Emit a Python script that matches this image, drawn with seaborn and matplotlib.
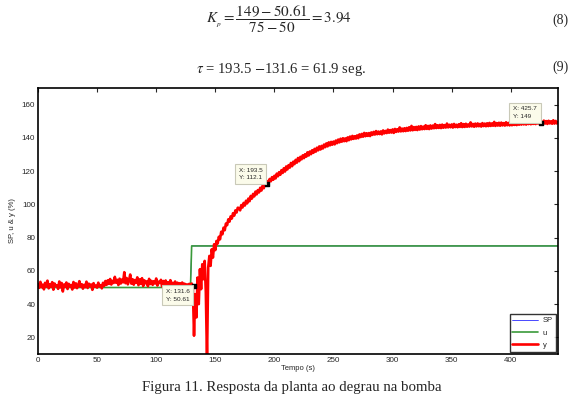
import matplotlib
matplotlib.use("Agg")
import matplotlib.pyplot as plt
import seaborn as sns
import numpy as np
import pandas as pd

# --- data (1 s steps, 0..440 s)
tempo = list(range(0, 441))

y_vals = [
    52.1, 49.8, 53.4, 50.2, 51.7, 48.9, 52.8, 50.6, 54.1, 49.5,
    51.9, 50.3, 53.2, 48.7, 52.4, 50.9, 51.3, 49.2, 53.6, 50.1,
    52.7, 47.6, 51.8, 50.4, 53.0, 49.1, 52.2, 50.8, 51.5, 48.8,
    53.3, 50.0, 52.5, 49.6, 51.2, 53.8, 50.5, 52.0, 49.3, 51.6,
    50.2, 53.5, 49.7, 52.3, 50.9, 51.8, 48.6, 52.6, 50.4, 51.1,
    49.9, 52.9, 50.7, 51.4, 49.5, 52.8, 51.0, 53.9, 51.6, 54.3,
    52.2, 55.1, 51.8, 54.0, 52.7, 56.4, 52.9, 54.6, 51.5, 55.3,
    52.4, 54.8, 53.1, 59.2, 52.6, 55.7, 51.9, 54.2, 57.8, 52.3,
    55.0, 51.7, 54.5, 52.8, 56.1, 51.4, 54.9, 52.2, 55.6, 50.9,
    54.3, 52.5, 53.7, 50.8, 55.2, 52.1, 54.0, 51.6, 53.8, 52.4,
    55.4, 51.2, 53.5, 52.7, 54.6, 50.6, 53.9, 51.8, 54.2, 52.0,
    53.1, 50.7, 54.4, 51.5, 52.8, 51.1, 53.6, 50.4, 52.9, 51.3,
    52.6, 50.2, 53.0, 51.4, 52.3, 50.8, 51.9, 50.5, 52.2, 51.0,
    52.4, 50.6, 21.0, 46.0, 32.0, 56.0, 40.0, 61.0, 49.0, 64.0,
    55.0, 66.0, 47.0, 6.0, 62.0, 69.0, 63.0, 73.0, 68.0, 76.0,
    72.5, 78.0, 76.5, 80.5, 79.0, 83.5, 82.0, 86.0, 84.5, 88.5,
    87.5, 91.0, 89.6, 92.8, 91.5, 94.7, 93.2, 96.4, 95.1, 98.0,
    97.8, 96.4, 99.6, 98.1, 100.9, 99.3, 102.2, 100.6, 103.5, 101.9,
    105.1, 103.5, 106.3, 104.8, 107.7, 106.0, 108.6, 107.2, 110.0, 108.3,
    111.2, 109.7, 112.4, 112.1, 114.0, 112.6, 115.3, 113.9, 116.4, 114.8,
    117.2, 115.6, 118.5, 116.9, 119.4, 117.8, 120.6, 118.9, 121.7, 119.8,
    122.8, 121.0, 123.6, 122.1, 124.9, 123.0, 125.7, 124.2, 126.8, 125.1,
    127.9, 126.0, 128.6, 127.1, 129.5, 127.8, 130.2, 128.7, 131.3, 129.4,
    131.8, 130.2, 132.6, 131.0, 133.4, 131.7, 134.1, 132.5, 134.9, 133.0,
    135.2, 133.6, 136.0, 134.4, 136.7, 134.9, 137.3, 135.5, 137.6, 135.9,
    137.8, 136.1, 138.4, 136.8, 139.0, 137.3, 139.5, 137.7, 139.8, 138.0,
    139.7, 138.0, 140.3, 138.6, 140.8, 139.1, 141.2, 139.4, 141.0, 139.6,
    141.5, 139.8, 142.1, 140.5, 142.4, 140.7, 143.0, 141.0, 142.8, 141.2,
    142.9, 141.1, 143.3, 141.8, 143.6, 142.0, 144.1, 142.2, 143.8, 142.3,
    143.9, 142.1, 144.5, 142.7, 144.2, 142.9, 145.0, 143.1, 144.7, 143.2,
    145.1, 143.0, 145.4, 143.6, 145.2, 143.8, 146.3, 143.9, 145.6, 144.0,
    145.8, 144.1, 146.0, 144.3, 146.4, 144.5, 147.2, 144.6, 146.5, 144.8,
    146.6, 144.7, 146.9, 145.0, 147.1, 145.2, 146.8, 145.3, 147.6, 145.4,
    147.2, 145.3, 147.5, 145.6, 147.4, 145.8, 148.3, 145.9, 147.6, 146.0,
    147.8, 145.9, 148.0, 146.1, 147.7, 146.2, 148.6, 146.3, 147.9, 146.4,
    148.1, 146.2, 148.4, 146.5, 147.9, 146.4, 148.2, 146.6, 148.8, 146.5,
    148.3, 146.6, 148.5, 146.7, 148.1, 146.8, 149.3, 146.9, 148.4, 146.7,
    148.6, 146.9, 148.7, 147.0, 148.4, 146.8, 148.9, 147.1, 148.6, 147.0,
    148.8, 147.1, 149.0, 147.2, 148.7, 147.3, 149.6, 147.2, 148.9, 147.4,
    149.1, 147.3, 149.2, 147.5, 148.9, 147.4, 149.4, 147.6, 149.0, 147.5,
    149.3, 147.6, 149.5, 147.8, 149.2, 147.7, 150.3, 147.9, 149.4, 148.0,
    149.7, 148.1, 149.8, 148.0, 149.6, 148.3, 150.1, 148.2, 149.9, 148.4,
    150.0, 148.3, 150.2, 148.6, 149.8, 148.5, 149.0, 148.7, 150.4, 148.6,
    150.1, 148.4, 150.3, 148.7, 150.0, 148.5, 150.6, 148.6, 150.2, 148.7,
    149.5,
]

# input step: 50 % until 130 s, then 75 %  (SP sits under u)
u_vals = [50.0] * 130 + [75.0] * 311
sp_vals = [50.0] * 130 + [75.0] * 311

# data tips
tip_x = [131.6, 193.5, 425.7]
tip_y = [50.61, 112.1, 149]
tip_text = ["X: 131.6\nY: 50.61", "X: 193.5\nY: 112.1", "X: 425.7\nY: 149"]

df = pd.DataFrame({"Tempo": tempo, "SP": sp_vals, "u": u_vals, "y": y_vals})

# --- style
sns.set_style("white")
plt.rcParams['font.family'] = ['Liberation Sans', 'DejaVu Sans']
plt.rcParams['mathtext.fontset'] = 'stix'
plt.rcParams['xtick.direction'] = 'in'
plt.rcParams['ytick.direction'] = 'in'

fig = plt.figure(figsize=(5.83, 3.99), dpi=100)
ax = fig.add_axes([0.0652, 0.1128, 0.892, 0.6666])

sns.lineplot(data=df, x="Tempo", y="SP", color="#0000ff", lw=0.5, ax=ax, label="SP")
sns.lineplot(data=df, x="Tempo", y="u", color="#3a9a3a", lw=1.2, ax=ax, label="u")
sns.lineplot(data=df, x="Tempo", y="y", color="#ff0000", lw=1.9, ax=ax, label="y")

# data tips
ax.scatter(tip_x, tip_y, marker="s", s=10, color="black", zorder=5)
offsets = [((-3, -2), "right", "top"), ((-3, 3), "right", "bottom"), ((-3, 3), "right", "bottom")]
for xv, yv, txt, (off, ha, va) in zip(tip_x, tip_y, tip_text, offsets):
    ax.annotate(txt, xy=(xv, yv), xytext=off, textcoords="offset points",
                ha=ha, va=va, multialignment="left", fontsize=4.6,
                linespacing=1.6, zorder=6,
                bbox=dict(boxstyle="square,pad=0.6", fc="#fbfbea", ec="#c9c9b8", lw=0.8))

# axes
ax.set_xlim(0, 440)
ax.set_ylim(10, 170)
ax.set_xticks(np.arange(0, 401, 50))
ax.set_yticks(np.arange(20, 161, 20))
ax.tick_params(labelsize=5.8, length=3, width=0.8, top=True, right=True, pad=2)
for s in ax.spines.values():
    s.set_color("black")
    s.set_linewidth(1.2)
ax.set_xlabel("Tempo (s)", fontsize=5.5, labelpad=1)
ax.set_ylabel("SP, u & y (%)", fontsize=5.5, labelpad=4)

leg = ax.legend(loc="lower right", fontsize=5.5, frameon=True, fancybox=False,
                handlelength=3.4, borderpad=0.35, labelspacing=0.65,
                handletextpad=0.6, borderaxespad=0.3)
leg.get_frame().set_edgecolor("black")
leg.get_frame().set_linewidth(1.0)

# equations and caption
fig.text(0.479, 0.952, r"$K_{_p} = \dfrac{149-50.61}{75-50} = 3.94$",
         ha="center", va="center", fontsize=10.9)
fig.text(0.962, 0.948, "(8)", ha="center", va="center", fontsize=10,
         family="Liberation Serif")
fig.text(0.482, 0.825, r"$\tau$ = 193.5 $-$131.6 = 61.9 seg.",
         ha="center", va="center", fontsize=10.5, family="Liberation Serif")
fig.text(0.962, 0.832, "(9)", ha="center", va="center", fontsize=10,
         family="Liberation Serif")
fig.text(0.501, 0.0276, "Figura 11. Resposta da planta ao degrau na bomba",
         ha="center", va="center", fontsize=10.7, family="Liberation Serif")

plt.savefig("out.png", dpi=100)
plt.close()
